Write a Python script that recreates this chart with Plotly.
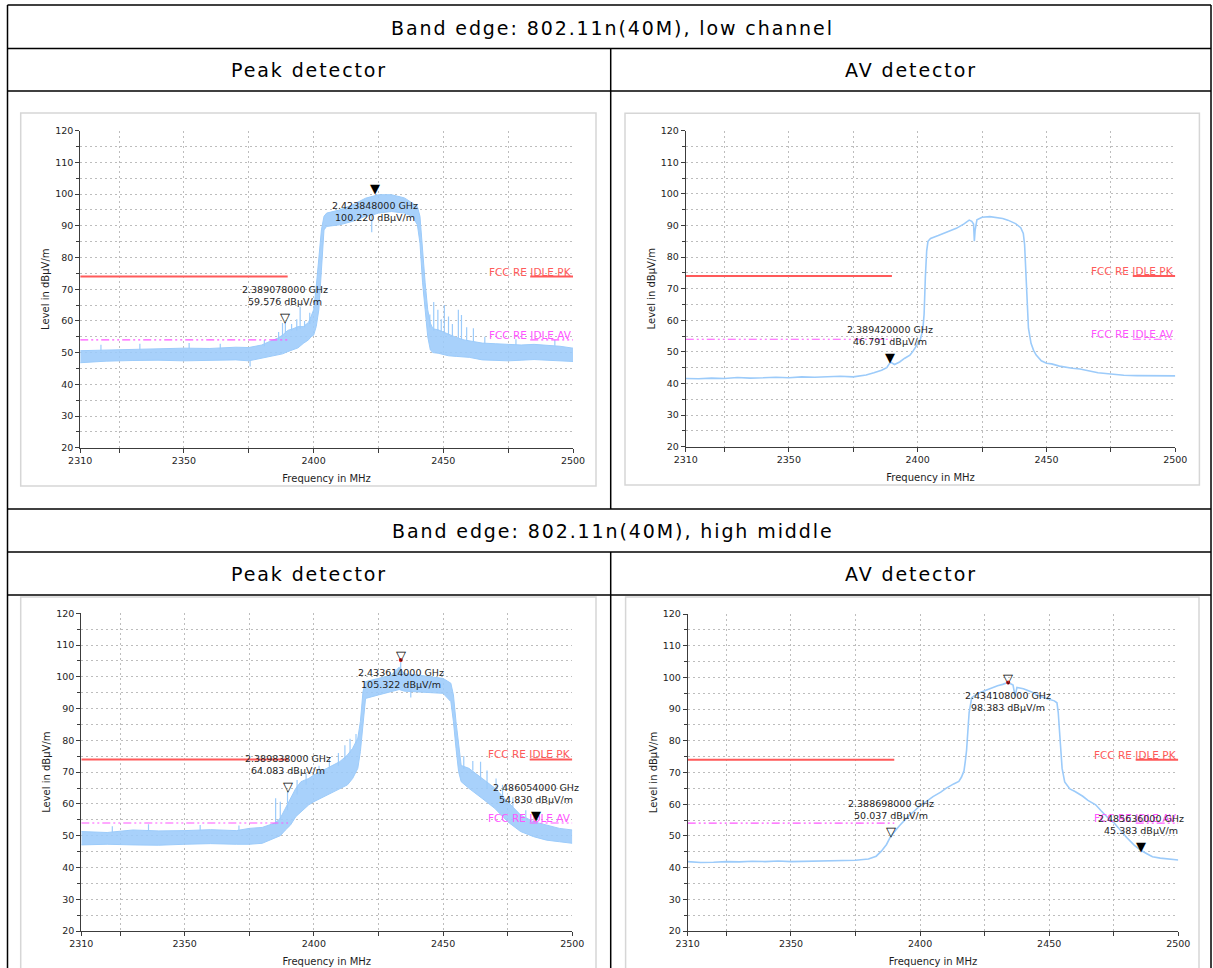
import plotly.graph_objects as go

W, H = 1213, 968

# ---------------- data ----------------
X_TICKS = [2310, 2325, 2350, 2375, 2400, 2425, 2450, 2475, 2500]
X_TICK_TEXT = ["2310", "", "2350", "", "2400", "", "2450", "", "2500"]

LIMIT_PK = 74.0
LIMIT_AV = 54.0
RESTRICTED_BANDS = [(2310.0, 2390.0), (2483.5, 2500.0)]
LIMIT_PK_LABEL = "FCC RE IDLE PK"
LIMIT_AV_LABEL = "FCC RE IDLE AV"

TABLE_TITLES = ["Band edge: 802.11n(40M), low channel",
                "Band edge: 802.11n(40M), high middle"]
COLUMN_TITLES = ["Peak detector", "AV detector"]

# Chart 1: peak detector, low channel (min / max envelope of the noisy trace)
pk_low_f = [2310, 2320, 2330, 2340, 2350, 2360, 2370, 2375, 2380, 2383,
            2386, 2388, 2390, 2392, 2394, 2396, 2398, 2399, 2400, 2401,
            2402, 2403, 2404, 2405, 2410, 2415, 2420, 2423, 2425, 2430,
            2435, 2438, 2440, 2441, 2442, 2443, 2444, 2445, 2446, 2448,
            2450, 2452, 2455, 2458, 2460, 2465, 2470, 2475, 2480, 2485,
            2490, 2495, 2500]
pk_low_min = [46.8, 47.3, 47.5, 47.6, 47.4, 47.6, 47.7, 47.4, 48.2, 48.8,
              49.3, 49.6, 50.3, 50.8, 51.5, 52.9, 54.0, 55.0, 55.5, 58.2,
              63.5, 76.0, 88.7, 89.8, 90.3, 91.4, 93.0, 93.5, 94.0, 94.5,
              94.0, 93.0, 90.3, 84.5, 72.0, 63.5, 55.0, 50.8, 50.0, 49.8,
              49.5, 49.0, 48.8, 48.5, 48.5, 47.7, 47.6, 47.4, 47.6, 47.8,
              47.6, 47.4, 47.2]
pk_low_max = [50.6, 50.8, 51.0, 51.3, 51.4, 51.3, 51.7, 51.6, 52.4, 53.5,
              54.5, 55.5, 57.0, 57.5, 58.2, 58.2, 59.5, 61.4, 63.5, 70.8,
              80.3, 88.7, 93.0, 94.0, 95.0, 96.6, 98.7, 99.5, 99.8, 99.8,
              98.8, 97.2, 96.0, 93.0, 82.0, 72.0, 63.5, 59.3, 57.5, 57.2,
              56.5, 55.8, 54.8, 54.0, 53.7, 53.0, 52.8, 52.5, 52.4, 52.6,
              52.4, 52.0, 51.4]
pk_low_spike_f = [2318.0, 2333.0, 2352.0, 2364.0, 2375.5, 2381.0, 2386.5, 2388.0,
                  2389.1, 2391.5, 2393.5, 2394.8, 2396.5, 2398.5, 2422.4,
                  2444.8, 2446.3, 2447.9, 2449.2, 2450.4, 2452.0, 2453.5, 2455.8,
                  2457.0, 2459.0, 2461.6, 2466.0, 2478.0, 2493.0]
pk_low_spike_from = [50.5, 50.8, 51.2, 51.0, 47.5, 52.0, 54.0, 55.0,
                     56.0, 57.0, 57.0, 57.5, 58.0, 59.0, 94.0,
                     58.0, 57.0, 57.0, 56.5, 56.0, 55.5, 55.0, 54.5,
                     54.0, 53.8, 53.5, 52.8, 52.4, 52.2]
pk_low_spike_to = [52.5, 52.8, 53.0, 52.8, 45.6, 54.0, 56.5, 59.3,
                   59.6, 59.0, 60.5, 64.5, 60.0, 62.6, 88.0,
                   62.0, 66.0, 63.5, 60.5, 65.0, 61.4, 59.0, 63.5,
                   61.9, 58.0, 57.7, 55.0, 54.2, 54.0]
pk_low_mk_ghz = [2.423848, 2.389078]
pk_low_mk_level = [100.220, 59.576]
pk_low_mk_kind = ["filled", "open"]
pk_low_mk_label = ["below", "above"]

# Chart 2: AV detector, low channel
av_low_f = [2310, 2315, 2320, 2325, 2330, 2335, 2340, 2345, 2350, 2355,
            2360, 2365, 2370, 2375, 2380, 2383, 2386, 2388, 2389.42, 2391,
            2393, 2395, 2397, 2398, 2400, 2401, 2402, 2402.5, 2403, 2403.5,
            2404, 2405, 2408, 2410, 2413, 2415, 2418, 2420, 2421, 2421.7,
            2422, 2422.3, 2423, 2425, 2428, 2430, 2433, 2435, 2438, 2440,
            2441, 2441.5, 2442, 2442.5, 2443, 2444, 2445, 2446, 2448, 2450,
            2452, 2455, 2458, 2460, 2463, 2465, 2468, 2470, 2475, 2480,
            2485, 2490, 2495, 2500]
av_low_level = [41.6, 41.5, 41.7, 41.6, 41.9, 41.7, 41.8, 42.0, 41.8, 42.1,
                42.0, 42.2, 42.3, 42.1, 42.7, 43.4, 44.2, 45.0, 46.8, 46.0,
                46.8, 48.0, 49.0, 50.0, 52.7, 53.8, 57.0, 62.0, 74.0, 82.0,
                85.0, 85.9, 86.8, 87.5, 88.3, 89.1, 90.5, 91.7, 91.3, 90.5,
                85.0, 88.5, 91.8, 92.6, 92.8, 92.6, 92.2, 91.7, 90.6, 89.3,
                87.5, 84.0, 74.0, 64.0, 57.5, 52.7, 50.5, 49.0, 47.2, 46.4,
                46.2, 45.5, 45.0, 44.8, 44.6, 44.2, 43.8, 43.4, 43.0, 42.6,
                42.5, 42.4, 42.5, 42.4]
av_low_mk_ghz = [2.389420]
av_low_mk_level = [46.791]
av_low_mk_kind = ["filled"]
av_low_mk_label = ["above"]

# Chart 3: peak detector, high middle
pk_high_f = [2310, 2320, 2330, 2340, 2350, 2360, 2370, 2375, 2380, 2383,
             2385, 2387, 2389, 2391, 2393, 2395, 2398, 2400, 2405, 2410,
             2413, 2415, 2417, 2418, 2419, 2420, 2425, 2430, 2433, 2435,
             2440, 2445, 2450, 2453, 2454, 2455, 2456, 2457, 2460, 2465,
             2470, 2475, 2480, 2485, 2490, 2495, 2500]
pk_high_min = [47.1, 47.3, 47.1, 47.0, 47.3, 47.5, 47.3, 47.3, 47.6, 48.6,
               49.2, 50.0, 51.8, 53.4, 56.0, 57.6, 59.7, 60.7, 62.8, 64.9,
               66.0, 68.0, 71.2, 76.5, 85.9, 93.2, 94.3, 95.3, 96.0, 95.5,
               95.3, 95.0, 94.8, 92.2, 85.9, 77.5, 70.2, 67.0, 64.9, 61.8,
               58.6, 54.4, 51.3, 49.7, 48.6, 48.1, 47.6]
pk_high_max = [51.3, 51.0, 51.8, 51.5, 51.6, 51.9, 51.6, 52.3, 52.6, 53.4,
               54.0, 55.5, 58.6, 61.8, 64.9, 67.0, 68.0, 69.1, 71.2, 73.3,
               75.4, 77.5, 80.7, 85.9, 95.3, 98.5, 99.5, 100.6, 103.0, 101.0,
               100.6, 100.0, 99.5, 98.0, 94.3, 85.9, 78.6, 72.1, 71.2, 68.1,
               65.0, 60.7, 56.5, 54.4, 53.4, 52.3, 51.8]
pk_high_spike_f = [2322.0, 2336.0, 2356.0, 2371.0, 2385.2, 2387.0, 2389.8, 2393.5,
                   2397.0, 2402.0, 2406.0, 2409.5, 2412.0, 2414.0, 2416.3,
                   2433.6, 2437.5, 2458.0, 2461.5, 2464.5, 2467.0, 2470.5,
                   2473.0, 2477.0, 2482.0]
pk_high_spike_from = [51.0, 51.5, 51.6, 51.6, 53.5, 55.0, 58.0, 63.0,
                      66.0, 69.0, 71.0, 72.0, 74.0, 76.0, 79.0,
                      101.0, 96.5, 71.0, 70.5, 67.5, 65.0, 64.0,
                      62.0, 59.0, 55.5]
pk_high_spike_to = [53.0, 53.6, 53.4, 53.2, 61.8, 60.7, 64.1, 67.5,
                    69.5, 72.0, 74.0, 76.0, 78.5, 80.5, 82.0,
                    105.3, 93.5, 75.0, 73.5, 73.3, 70.5, 68.0,
                    66.0, 62.0, 58.0]
pk_high_mk_ghz = [2.433614, 2.389838, 2.486054]
pk_high_mk_level = [105.322, 64.083, 54.830]
pk_high_mk_kind = ["open_dot", "open", "filled"]
pk_high_mk_label = ["below", "above", "above"]

# Chart 4: AV detector, high middle
av_high_f = [2310, 2315, 2320, 2325, 2330, 2335, 2340, 2345, 2350, 2355,
             2360, 2365, 2370, 2375, 2380, 2383, 2385, 2387, 2388.698, 2390,
             2392, 2395, 2398, 2400, 2403, 2405, 2408, 2410, 2413, 2415,
             2416, 2417, 2417.5, 2418, 2418.5, 2419, 2420, 2422, 2425, 2428,
             2430, 2432, 2434.108, 2436, 2436.8, 2437.5, 2440, 2443, 2445, 2448,
             2450, 2452, 2453, 2453.5, 2454, 2454.5, 2455, 2456, 2458, 2460,
             2463, 2465, 2468, 2470, 2473, 2475, 2478, 2480, 2483, 2485.636,
             2488, 2490, 2493, 2495, 2500]
av_high_level = [41.9, 41.6, 41.7, 41.9, 41.8, 42.0, 41.9, 42.1, 41.9, 42.0,
                 42.2, 42.1, 42.4, 42.3, 42.7, 43.6, 45.2, 47.3, 50.0, 51.3,
                 53.2, 55.8, 58.2, 59.5, 61.2, 62.4, 63.8, 65.0, 66.4, 67.2,
                 68.5, 70.5, 73.5, 77.0, 83.0, 89.0, 93.6, 94.8, 95.8, 96.8,
                 97.4, 97.8, 98.4, 97.6, 94.0, 96.8, 96.4, 95.5, 94.6, 93.6,
                 93.0, 92.6, 92.0, 89.0, 83.0, 76.0, 71.3, 67.0, 64.8, 64.0,
                 62.5, 61.2, 59.8, 58.0, 55.5, 54.2, 51.3, 49.5, 47.0, 45.4,
                 44.3, 43.4, 43.0, 42.8, 42.4]
av_high_mk_ghz = [2.434108, 2.388698, 2.485636]
av_high_mk_level = [98.383, 50.037, 45.383]
av_high_mk_kind = ["open_dot", "open", "filled"]
av_high_mk_label = ["below", "above", "above"]

# ---------------- styles / layout ----------------
FONT = "DejaVu Sans"
TRACE_COLOR = "#9CCBFA"
FILL_COLOR = "rgba(156,203,250,0.88)"
GRID_COLOR = "#BDBDBD"
AXIS_COLOR = "#3C3C3C"
TEXT_COLOR = "#1E1E1E"
PK_COLOR = "#FF5A5A"
AV_COLOR = "#FF55FF"
FRAME_COLOR = "#D6D6D6"
GRID_DASH = "2px,3px"

charts = [
    dict(box=(80.2, 130.7, 573.0, 447.7), frame=(20.7, 113.0, 596.0, 486.0),
         f=pk_low_f, lo=pk_low_min, hi=pk_low_max,
         spikes=(pk_low_spike_f, pk_low_spike_from, pk_low_spike_to),
         mk=(pk_low_mk_ghz, pk_low_mk_level, pk_low_mk_kind, pk_low_mk_label)),
    dict(box=(685.8, 130.7, 1175.3, 446.7), frame=(625.0, 113.3, 1199.4, 485.0),
         f=av_low_f, level=av_low_level,
         mk=(av_low_mk_ghz, av_low_mk_level, av_low_mk_kind, av_low_mk_label)),
    dict(box=(81.3, 613.3, 572.3, 931.0), frame=(20.7, 597.0, 596.0, 990.0),
         f=pk_high_f, lo=pk_high_min, hi=pk_high_max,
         spikes=(pk_high_spike_f, pk_high_spike_from, pk_high_spike_to),
         mk=(pk_high_mk_ghz, pk_high_mk_level, pk_high_mk_kind, pk_high_mk_label)),
    dict(box=(687.7, 614.0, 1178.3, 931.0), frame=(625.6, 597.0, 1199.0, 990.0),
         f=av_high_f, level=av_high_level,
         mk=(av_high_mk_ghz, av_high_mk_level, av_high_mk_kind, av_high_mk_label)),
]


def px(x):
    return x / W


def py(y):
    return 1 - y / H


fig = go.Figure()
annotations = []
shapes = []

for i, c in enumerate(charts, 1):
    sfx = "" if i == 1 else str(i)
    xr, yr = "x" + sfx, "y" + sfx
    x0, y0, x1, y1 = c["box"]

    if "lo" in c:
        fig.add_trace(go.Scatter(x=c["f"], y=c["lo"], xaxis=xr, yaxis=yr, mode="lines",
                                 line=dict(color=TRACE_COLOR, width=1), hoverinfo="skip",
                                 showlegend=False))
        fig.add_trace(go.Scatter(x=c["f"], y=c["hi"], xaxis=xr, yaxis=yr, mode="lines",
                                 line=dict(color=TRACE_COLOR, width=1), fill="tonexty",
                                 fillcolor=FILL_COLOR, hoverinfo="skip", showlegend=False))
        sx, sy = [], []
        for f, a, b in zip(*c["spikes"]):
            sx += [f, f, None]
            sy += [a, b, None]
        fig.add_trace(go.Scatter(x=sx, y=sy, xaxis=xr, yaxis=yr, mode="lines",
                                 line=dict(color=TRACE_COLOR, width=1.2), hoverinfo="skip",
                                 showlegend=False))
    else:
        fig.add_trace(go.Scatter(x=c["f"], y=c["level"], xaxis=xr, yaxis=yr, mode="lines",
                                 line=dict(color=TRACE_COLOR, width=1.6), hoverinfo="skip",
                                 showlegend=False))

    # limit lines
    for lim, col, dash, wid in [(LIMIT_PK, PK_COLOR, "solid", 2),
                                (LIMIT_AV, AV_COLOR, "8px,3px,2px,3px,2px,3px", 1.2)]:
        lx, ly = [], []
        for a, b in RESTRICTED_BANDS:
            lx += [a, b, None]
            ly += [lim, lim, None]
        fig.add_trace(go.Scatter(x=lx, y=ly, xaxis=xr, yaxis=yr, mode="lines",
                                 line=dict(color=col, width=wid, dash=dash),
                                 hoverinfo="skip", showlegend=False))
    for lim, col, txt in [(LIMIT_PK, PK_COLOR, LIMIT_PK_LABEL), (LIMIT_AV, AV_COLOR, LIMIT_AV_LABEL)]:
        annotations.append(dict(x=2500, y=lim, xref=xr, yref=yr, text=txt, showarrow=False,
                                xanchor="right", yanchor="bottom", yshift=-2, borderpad=0,
                                font=dict(family=FONT, size=10.5, color=col)))

    # markers
    ghz, lev, kind, lab = c["mk"]
    for g, l, k, p in zip(ghz, lev, kind, lab):
        f = g * 1000.0
        if k == "open_dot":
            fig.add_trace(go.Scatter(x=[f], y=[l], xaxis=xr, yaxis=yr, mode="markers",
                                     marker=dict(color="#E02020", size=4), hoverinfo="skip",
                                     showlegend=False))
        sym = "\u25BC" if k == "filled" else "\u25BD"
        annotations.append(dict(x=f, y=l, xref=xr, yref=yr, text=sym, showarrow=False,
                                xanchor="center", yanchor="bottom", yshift=-4, borderpad=0,
                                font=dict(family=FONT, size=13, color="#000000")))
        txt = f"{g:.9f} GHz<br>{l:.3f} dB\u00b5V/m"
        if p == "below":
            annotations.append(dict(x=f, y=l, xref=xr, yref=yr, text=txt, showarrow=False,
                                    xanchor="center", yanchor="top", yshift=-6, borderpad=0,
                                    font=dict(family=FONT, size=9.5, color=TEXT_COLOR)))
        else:
            annotations.append(dict(x=f, y=l, xref=xr, yref=yr, text=txt, showarrow=False,
                                    xanchor="center", yanchor="bottom", yshift=14, borderpad=0,
                                    font=dict(family=FONT, size=9.5, color=TEXT_COLOR)))

    tickfont = dict(family=FONT, size=9.5, color=TEXT_COLOR)
    titlefont = dict(family=FONT, size=10, color=TEXT_COLOR)
    xa = dict(domain=[px(x0), px(x1)], anchor=yr, range=[2310, 2500],
              tickmode="array", tickvals=X_TICKS, ticktext=X_TICK_TEXT,
              showgrid=True, gridcolor=GRID_COLOR, griddash=GRID_DASH, gridwidth=1,
              showline=True, linecolor=AXIS_COLOR, linewidth=1,
              ticks="outside", ticklen=4, tickcolor=AXIS_COLOR, tickfont=tickfont,
              title=dict(text="Frequency in MHz", font=titlefont, standoff=9),
              zeroline=False, automargin=False, fixedrange=True)
    ya = dict(domain=[py(y1), py(y0)], anchor=xr, range=[20, 120],
              tickmode="linear", tick0=20, dtick=10,
              showgrid=True, gridcolor=GRID_COLOR, griddash=GRID_DASH, gridwidth=1,
              showline=True, linecolor=AXIS_COLOR, linewidth=1,
              ticks="outside", ticklen=4, tickcolor=AXIS_COLOR, tickfont=tickfont,
              minor=dict(dtick=5, tick0=20, ticks="outside", ticklen=3, tickcolor=AXIS_COLOR,
                         showgrid=True, gridcolor=GRID_COLOR, griddash=GRID_DASH, gridwidth=1),
              title=dict(text="Level in dB\u00b5V/m", font=titlefont, standoff=3),
              zeroline=False, automargin=False, fixedrange=True)
    fig.update_layout({"xaxis" + sfx: xa, "yaxis" + sfx: ya})

    fx0, fy0, fx1, fy1 = c["frame"]
    shapes.append(dict(type="rect", xref="paper", yref="paper", x0=px(fx0), x1=px(fx1),
                       y0=py(fy1), y1=py(fy0), line=dict(color=FRAME_COLOR, width=1.5),
                       layer="below"))

# ---------------- table ----------------
TL, TR, TTOP = 7.5, 1211.0, 5.0
COLX = 610.7
HLINES = [5.0, 48.5, 91.0, 509.0, 552.0, 595.0]


def hline(y):
    return dict(type="line", xref="paper", yref="paper", x0=px(TL), x1=px(TR), y0=py(y), y1=py(y),
                line=dict(color="#000000", width=1.5))


def vline(x, ya, yb):
    return dict(type="line", xref="paper", yref="paper", x0=px(x), x1=px(x), y0=py(ya), y1=py(yb),
                line=dict(color="#000000", width=1.5))


for y in HLINES:
    shapes.append(hline(y))
shapes.append(vline(TL, TTOP, H + 5))
shapes.append(vline(TR, TTOP, H + 5))
shapes.append(vline(COLX, 48.5, 509.0))
shapes.append(vline(COLX, 552.0, H + 5))

HEAD_FONT = dict(family="DejaVu Sans", size=19, color="#000000")


def head(text, cx, cy):
    return dict(x=px(cx), y=py(cy), xref="paper", yref="paper", showarrow=False,
                text='<span style="letter-spacing:1.9px">' + text + "</span>",
                xanchor="center", yanchor="middle", font=HEAD_FONT)


annotations.append(head(TABLE_TITLES[0], 612.9, 27.5))
annotations.append(head(COLUMN_TITLES[0], (TL + COLX) / 2, 70.0))
annotations.append(head(COLUMN_TITLES[1], (COLX + TR) / 2, 70.0))
annotations.append(head(TABLE_TITLES[1], 612.9, 530.5))
annotations.append(head(COLUMN_TITLES[0], (TL + COLX) / 2, 573.5))
annotations.append(head(COLUMN_TITLES[1], (COLX + TR) / 2, 573.5))

fig.update_layout(width=W, height=H, margin=dict(l=0, r=0, t=0, b=0),
                  paper_bgcolor="white", plot_bgcolor="white",
                  annotations=annotations, shapes=shapes, showlegend=False)

fig.write_html("out.html")
